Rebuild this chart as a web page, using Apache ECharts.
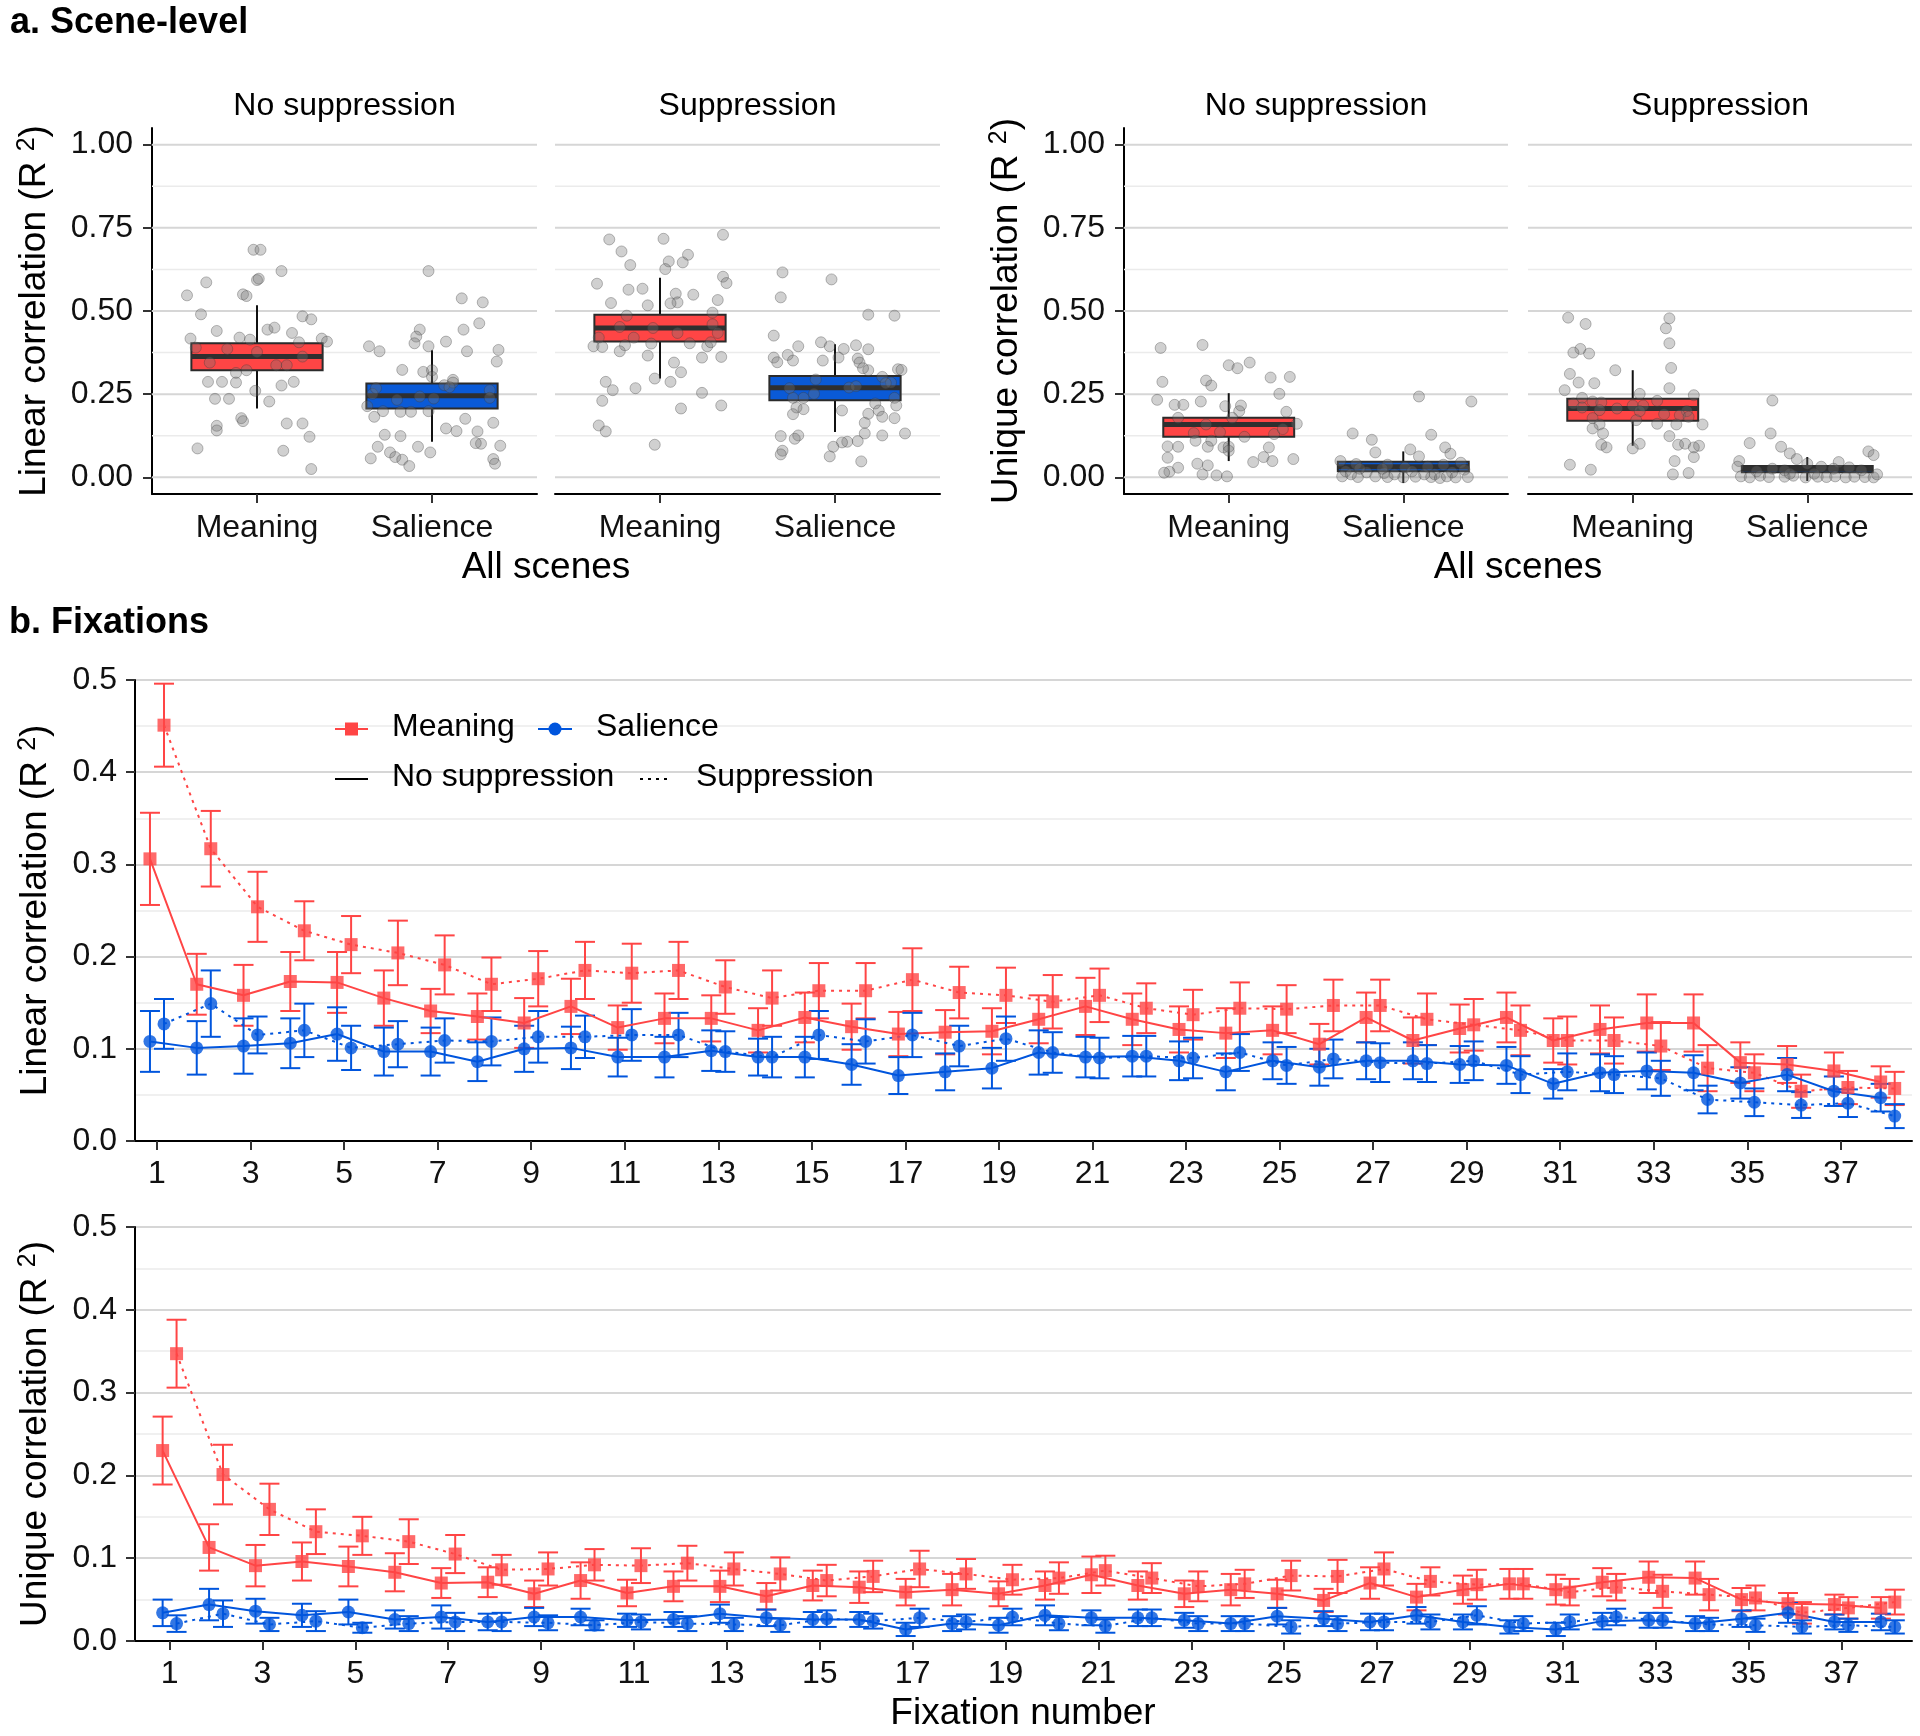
<!DOCTYPE html>
<html><head><meta charset="utf-8">
<script src="https://cdn.jsdelivr.net/npm/echarts@6/dist/echarts.min.js"></script>
<style>html,body{margin:0;padding:0;background:#fff}#c{width:1920px;height:1736px}</style>
</head><body><div id="c"></div>
<script>
const FONT = '"Liberation Sans", Arial, sans-serif';
const RED = '#FF4545', BLUE = '#0055DD', BLUE_BOX = '#0A5AD7';

// ---------- Panel a: scene level ----------
const categories = ['Meaning', 'Salience'];
const facetLabels = ['No suppression', 'Suppression'];
const sceneTicks = [0, 0.25, 0.5, 0.75, 1];
const sceneMinor = [0.125, 0.375, 0.625, 0.875];

// box stats per category: [lowWhisker, q1, median, q3, highWhisker]
const linBoxNoSupp = [[0.207, 0.322, 0.363, 0.403, 0.517], [0.107, 0.207, 0.245, 0.282, 0.382]];
const linBoxSupp   = [[0.297, 0.408, 0.449, 0.489, 0.600], [0.136, 0.232, 0.269, 0.305, 0.400]];
const uniBoxNoSupp = [[0.049, 0.122, 0.159, 0.179, 0.253], [-0.017, 0.018, 0.032, 0.047, 0.078]];
const uniBoxSupp   = [[0.095, 0.170, 0.207, 0.236, 0.322], [-0.011, 0.015, 0.026, 0.034, 0.061]];

// per-scene points: [jitter, value]
const linPtsNoSuppMeaning = [[-0.40,0.547],[-0.29,0.586],[-0.32,0.49],[-0.02,0.684],[0.02,0.684],[0,0.593],[0.01,0.597],[0.14,0.62],[-0.08,0.55],[-0.06,0.545],[-0.23,0.44],[-0.38,0.417],[0.06,0.444],[0.10,0.45],[0.20,0.434],[-0.10,0.42],[-0.04,0.414],[0.26,0.484],[0.31,0.475],[-0.35,0.39],[-0.17,0.386],[0,0.377],[0.24,0.406],[0.37,0.417],[0.40,0.408],[0.26,0.363],[-0.27,0.345],[0.11,0.337],[0.17,0.337],[-0.06,0.322],[-0.12,0.314],[-0.28,0.287],[-0.20,0.287],[-0.12,0.285],[0.21,0.287],[0.14,0.276],[-0.01,0.26],[-0.24,0.236],[-0.16,0.236],[0.07,0.228],[-0.09,0.178],[-0.08,0.169],[-0.23,0.155],[-0.23,0.141],[0.17,0.162],[0.26,0.162],[0.30,0.122],[-0.34,0.087],[0.15,0.08],[0.31,0.025]];
const linPtsNoSuppSalience = [[-0.02,0.62],[0.17,0.538],[0.29,0.526],[0.27,0.463],[0.18,0.444],[-0.07,0.444],[-0.09,0.423],[-0.10,0.403],[0.08,0.408],[-0.36,0.394],[-0.30,0.379],[0.38,0.383],[0.20,0.379],[-0.02,0.394],[-0.17,0.323],[-0.05,0.317],[0,0.322],[0,0.302],[0.12,0.293],[0.12,0.285],[0.07,0.277],[0.10,0.271],[0.37,0.348],[0.33,0.262],[-0.34,0.251],[-0.32,0.268],[-0.07,0.243],[0.01,0.237],[-0.20,0.233],[0.33,0.239],[-0.37,0.214],[-0.28,0.199],[-0.18,0.197],[-0.12,0.197],[-0.02,0.199],[-0.33,0.182],[0.19,0.176],[0.35,0.164],[0.08,0.147],[0.14,0.139],[0.26,0.138],[-0.27,0.128],[-0.18,0.124],[0.28,0.101],[0.25,0.103],[0.39,0.095],[-0.31,0.092],[-0.08,0.092],[-0.24,0.075],[-0.01,0.075],[-0.35,0.057],[-0.21,0.061],[-0.17,0.053],[-0.13,0.034],[0.35,0.055],[0.36,0.041]];
const linPtsSuppMeaning = [[-0.29,0.715],[0.02,0.717],[0.36,0.729],[-0.22,0.679],[0.16,0.669],[-0.17,0.638],[0.13,0.646],[0.05,0.649],[0.03,0.626],[0.36,0.603],[0.38,0.584],[-0.36,0.582],[-0.18,0.564],[-0.10,0.567],[0.09,0.552],[0.19,0.549],[0.10,0.526],[0.06,0.523],[0.33,0.533],[-0.28,0.524],[-0.07,0.517],[-0.19,0.486],[0.30,0.495],[-0.23,0.452],[-0.04,0.449],[0.30,0.46],[0.10,0.434],[0.33,0.434],[-0.35,0.42],[-0.15,0.42],[-0.38,0.394],[-0.33,0.392],[-0.20,0.397],[-0.05,0.402],[0.17,0.403],[0.27,0.394],[0.29,0.406],[-0.23,0.379],[-0.07,0.366],[0.24,0.36],[0.35,0.362],[0.08,0.345],[0.12,0.316],[-0.03,0.297],[-0.31,0.287],[0.06,0.287],[-0.27,0.262],[-0.14,0.268],[0.24,0.254],[-0.33,0.23],[0.35,0.216],[0.12,0.207],[-0.35,0.156],[-0.31,0.138],[-0.03,0.098]];
const linPtsSuppSalience = [[-0.30,0.616],[-0.02,0.595],[-0.31,0.541],[0.19,0.489],[0.34,0.486],[-0.35,0.426],[-0.21,0.394],[-0.08,0.406],[0.05,0.386],[0.12,0.397],[0.19,0.385],[-0.03,0.394],[-0.35,0.36],[-0.27,0.368],[0.02,0.36],[-0.24,0.351],[-0.33,0.346],[-0.07,0.351],[0.13,0.357],[0.14,0.345],[0.19,0.322],[0.16,0.328],[0.36,0.325],[0.38,0.323],[-0.11,0.294],[0.27,0.302],[0.32,0.285],[-0.26,0.268],[0.08,0.27],[0.12,0.274],[0.29,0.283],[-0.12,0.251],[-0.18,0.239],[-0.24,0.239],[0.34,0.239],[-0.22,0.21],[-0.18,0.205],[0.04,0.201],[0.23,0.222],[0.35,0.216],[0.25,0.201],[0.19,0.191],[-0.24,0.19],[0.27,0.182],[0.34,0.178],[0.17,0.164],[-0.31,0.124],[-0.21,0.126],[-0.23,0.116],[0.27,0.126],[0.40,0.132],[0.17,0.132],[0.13,0.109],[0.07,0.107],[0.04,0.105],[-0.01,0.092],[-0.30,0.08],[-0.31,0.069],[-0.03,0.063],[0.15,0.048]];
const uniPtsNoSuppMeaning = [[-0.39,0.389],[-0.15,0.398],[-0.38,0.287],[-0.13,0.291],[-0.10,0.276],[0,0.337],[0.05,0.328],[0.12,0.345],[0.24,0.30],[0.35,0.302],[-0.41,0.233],[-0.31,0.218],[-0.26,0.218],[-0.16,0.228],[-0.02,0.214],[0.07,0.216],[0.29,0.251],[0.06,0.199],[0.33,0.197],[-0.29,0.179],[0.02,0.179],[-0.13,0.159],[0.39,0.161],[-0.20,0.133],[-0.05,0.136],[0.09,0.122],[0.26,0.13],[0.31,0.145],[-0.10,0.110],[-0.19,0.110],[-0.35,0.093],[-0.29,0.092],[-0.12,0.092],[-0.03,0.09],[0,0.092],[0.23,0.09],[0,0.08],[0.20,0.061],[-0.35,0.059],[0.37,0.055],[0.14,0.046],[0.25,0.049],[-0.18,0.041],[-0.12,0.036],[-0.29,0.029],[-0.34,0.017],[-0.37,0.014],[-0.15,0.009],[-0.07,0.006],[-0.01,0.003]];
const uniPtsNoSuppSalience = [[0.09,0.243],[0.39,0.228],[-0.29,0.132],[0.16,0.128],[-0.18,0.113],[-0.16,0.075],[0.04,0.084],[0.24,0.09],[0.27,0.071],[0.09,0.063],[-0.36,0.049],[-0.27,0.04],[-0.09,0.038],[0.01,0.03],[0.14,0.032],[0.23,0.038],[0.33,0.044],[0.35,0.023],[-0.33,0.018],[-0.21,0.015],[-0.11,0.013],[0.05,0.018],[0.18,0.009],[0.28,0.015],[-0.35,0.003],[-0.26,0.001],[-0.16,0.003],[-0.09,0.001],[0,0],[0.07,0.002],[0.16,0.001],[0.21,-0.002],[0.25,0.003],[0.30,0],[0.37,0.001],[-0.30,0.009],[-0.05,0.009],[0.12,0.009],[-0.12,0.026],[-0.25,0.026]];
const uniPtsSuppMeaning = [[-0.37,0.480],[0.21,0.478],[0.19,0.448],[-0.27,0.461],[0.21,0.403],[-0.30,0.386],[-0.34,0.375],[-0.25,0.372],[-0.10,0.322],[0.22,0.329],[-0.36,0.311],[-0.31,0.285],[-0.22,0.283],[-0.39,0.262],[0.21,0.268],[-0.29,0.239],[0.04,0.251],[0.35,0.247],[0.14,0.23],[-0.34,0.222],[-0.23,0.228],[-0.18,0.225],[-0.29,0.21],[-0.19,0.202],[-0.09,0.207],[0,0.216],[0.06,0.216],[0.04,0.199],[0.18,0.19],[0.31,0.199],[0.27,0.187],[0.32,0.182],[-0.23,0.178],[0.02,0.172],[0.14,0.161],[0.25,0.159],[0.40,0.159],[-0.19,0.159],[-0.23,0.147],[-0.17,0.132],[0.21,0.124],[-0.18,0.098],[-0.15,0.09],[0.04,0.101],[0,0.087],[0.26,0.098],[0.30,0.101],[0.38,0.095],[0.35,0.09],[0.35,0.061],[0.24,0.049],[-0.36,0.038],[-0.24,0.023],[0.23,0.009],[0.32,0.013]];
const uniPtsSuppSalience = [[-0.20,0.231],[-0.21,0.132],[-0.33,0.103],[-0.15,0.092],[-0.10,0.072],[0.35,0.078],[0.38,0.067],[-0.39,0.049],[-0.06,0.055],[0,0.041],[0.18,0.046],[-0.40,0.032],[-0.29,0.018],[-0.20,0.026],[-0.13,0.021],[0.08,0.032],[0.15,0.026],[0.24,0.03],[0.31,0.021],[-0.38,0.003],[-0.33,0],[-0.27,0.005],[-0.22,0.001],[-0.13,0.002],[-0.08,0.005],[-0.01,0],[0.06,0.002],[0.11,0.001],[0.16,0.003],[0.22,0],[0.27,0.002],[0.33,0.001],[0.38,0],[0.40,0.009],[0.04,0.011],[-0.10,0.011]];

// ---------- Panel b: fixations ----------
const fixations = [1,2,3,4,5,6,7,8,9,10,11,12,13,14,15,16,17,18,19,20,21,22,23,24,25,26,27,28,29,30,31,32,33,34,35,36,37,38];
const fixTicks = [1,3,5,7,9,11,13,15,17,19,21,23,25,27,29,31,33,35,37];

const linMeaningNoSupp = [0.306,0.170,0.158,0.173,0.172,0.155,0.141,0.135,0.128,0.146,0.123,0.133,0.133,0.120,0.134,0.124,0.116,0.118,0.119,0.132,0.146,0.132,0.121,0.117,0.120,0.105,0.134,0.109,0.122,0.134,0.109,0.121,0.128,0.128,0.085,0.083,0.076,0.064];
const linMeaningSupp = [0.451,0.317,0.254,0.228,0.213,0.204,0.191,0.170,0.176,0.185,0.182,0.185,0.167,0.155,0.163,0.163,0.175,0.161,0.158,0.151,0.158,0.144,0.137,0.144,0.143,0.147,0.147,0.132,0.126,0.120,0.109,0.109,0.103,0.079,0.074,0.054,0.058,0.057];
const linSalNoSupp = [0.108,0.101,0.103,0.106,0.116,0.097,0.097,0.086,0.100,0.101,0.091,0.091,0.098,0.091,0.091,0.083,0.071,0.075,0.079,0.096,0.091,0.092,0.087,0.075,0.087,0.080,0.087,0.087,0.083,0.082,0.062,0.074,0.076,0.074,0.063,0.072,0.054,0.047];
const linSalSupp = [0.127,0.149,0.115,0.120,0.101,0.105,0.109,0.108,0.113,0.113,0.115,0.115,0.097,0.091,0.115,0.108,0.115,0.103,0.111,0.096,0.090,0.092,0.090,0.096,0.082,0.089,0.085,0.084,0.087,0.072,0.075,0.072,0.068,0.045,0.042,0.039,0.041,0.027];
const linMeaningNoSuppSE = [0.05,0.033,0.033,0.032,0.033,0.03,0.024,0.025,0.027,0.03,0.024,0.027,0.025,0.024,0.027,0.025,0.024,0.024,0.025,0.026,0.031,0.028,0.025,0.027,0.026,0.022,0.027,0.025,0.026,0.027,0.024,0.026,0.031,0.031,0.022,0.02,0.02,0.017];
const linMeaningSuppSE = [0.045,0.041,0.038,0.032,0.031,0.035,0.032,0.029,0.03,0.031,0.032,0.031,0.029,0.03,0.03,0.03,0.034,0.028,0.03,0.029,0.029,0.027,0.027,0.028,0.026,0.028,0.028,0.028,0.028,0.027,0.026,0.025,0.026,0.025,0.02,0.018,0.018,0.018];
const linSalNoSuppSE = [0.033,0.029,0.03,0.027,0.029,0.026,0.026,0.021,0.025,0.023,0.021,0.022,0.022,0.02,0.022,0.022,0.02,0.02,0.022,0.024,0.022,0.022,0.021,0.02,0.02,0.02,0.02,0.02,0.02,0.02,0.016,0.02,0.02,0.019,0.017,0.018,0.016,0.015];
const linSalSuppSE = [0.027,0.036,0.02,0.029,0.024,0.025,0.024,0.026,0.028,0.023,0.028,0.024,0.022,0.022,0.026,0.024,0.024,0.022,0.024,0.022,0.022,0.022,0.022,0.02,0.02,0.021,0.021,0.02,0.021,0.02,0.02,0.02,0.019,0.015,0.015,0.014,0.015,0.013];

const uniMeaningNoSupp = [0.230,0.113,0.091,0.096,0.090,0.083,0.070,0.071,0.057,0.073,0.058,0.066,0.066,0.054,0.067,0.065,0.059,0.062,0.057,0.067,0.080,0.067,0.057,0.062,0.057,0.049,0.070,0.053,0.062,0.069,0.062,0.071,0.077,0.076,0.050,0.045,0.044,0.040];
const uniMeaningSupp = [0.347,0.201,0.159,0.132,0.127,0.120,0.105,0.086,0.087,0.092,0.091,0.094,0.087,0.081,0.073,0.078,0.087,0.081,0.074,0.076,0.085,0.076,0.066,0.069,0.079,0.078,0.087,0.072,0.068,0.069,0.059,0.065,0.060,0.056,0.052,0.034,0.040,0.047];
const uniSalNoSupp = [0.034,0.044,0.036,0.031,0.035,0.026,0.029,0.023,0.029,0.029,0.025,0.026,0.033,0.028,0.026,0.026,0.014,0.021,0.019,0.031,0.028,0.028,0.025,0.021,0.030,0.027,0.023,0.031,0.023,0.017,0.014,0.024,0.025,0.021,0.027,0.034,0.023,0.023];
const uniSalSupp = [0.021,0.033,0.020,0.024,0.016,0.021,0.023,0.023,0.022,0.019,0.023,0.021,0.020,0.019,0.027,0.024,0.028,0.023,0.029,0.021,0.018,0.028,0.021,0.021,0.017,0.021,0.023,0.023,0.031,0.021,0.023,0.029,0.025,0.020,0.019,0.017,0.019,0.017];
const uniMeaningNoSuppSE = [0.041,0.028,0.025,0.023,0.024,0.023,0.018,0.018,0.016,0.022,0.016,0.018,0.019,0.016,0.018,0.019,0.016,0.019,0.015,0.017,0.022,0.017,0.016,0.019,0.017,0.014,0.019,0.016,0.017,0.018,0.018,0.017,0.019,0.02,0.014,0.013,0.012,0.013];
const uniMeaningSuppSE = [0.041,0.036,0.031,0.027,0.023,0.027,0.023,0.018,0.02,0.019,0.021,0.021,0.02,0.02,0.019,0.019,0.022,0.018,0.018,0.019,0.018,0.018,0.018,0.017,0.018,0.02,0.02,0.017,0.018,0.018,0.016,0.016,0.02,0.019,0.015,0.013,0.013,0.015];
const uniSalNoSuppSE = [0.016,0.019,0.015,0.014,0.015,0.011,0.014,0.01,0.011,0.01,0.008,0.009,0.011,0.01,0.009,0.009,0.008,0.009,0.009,0.012,0.009,0.01,0.009,0.009,0.01,0.009,0.01,0.01,0.009,0.008,0.008,0.01,0.009,0.009,0.01,0.012,0.009,0.01];
const uniSalSuppSE = [0.01,0.016,0.008,0.012,0.006,0.009,0.011,0.011,0.009,0.006,0.009,0.009,0.008,0.008,0.01,0.009,0.011,0.009,0.01,0.008,0.008,0.01,0.009,0.009,0.008,0.009,0.01,0.009,0.011,0.009,0.009,0.01,0.009,0.008,0.008,0.008,0.008,0.008];

// ---------- build chart ----------
const chart = echarts.init(document.getElementById('c'), null, {renderer: 'canvas'});
const TXT = '#111';
const axisLineStyle = {color: '#000', width: 2};
const tickStyle = {color: '#333', width: 2};
const supRich = {sup: {fontSize: 25, fontFamily: FONT, color: '#000', padding: [0, 0, 14, 0]}};

const grids = [
  {left: 152, top: 128, width: 385, height: 366},
  {left: 555, top: 128, width: 385, height: 366},
  {left: 1124, top: 128, width: 384, height: 366},
  {left: 1528, top: 128, width: 384, height: 366},
  {left: 135, top: 680, width: 1777, height: 461},
  {left: 135, top: 1227, width: 1777, height: 414}
].map(g => Object.assign({containLabel: false, outerBoundsMode: 'none'}, g));

function sceneX(i) {
  return {type: 'value', gridIndex: i, min: 0.4, max: 2.6,
    axisLine: {show: true, onZero: false, lineStyle: axisLineStyle},
    axisTick: {show: true, customValues: [1, 2], length: 9, lineStyle: tickStyle},
    axisLabel: {show: true, customValues: [1, 2], formatter: v => categories[Math.round(v) - 1],
      fontSize: 32, fontFamily: FONT, color: TXT, margin: 18},
    splitLine: {show: false}};
}
function sceneY(i, name, show) {
  return {type: 'value', gridIndex: i, min: -0.05, max: 1.05, show: show,
    axisLine: {show: true, onZero: false, lineStyle: axisLineStyle},
    axisTick: {show: true, customValues: sceneTicks, length: 9, lineStyle: tickStyle},
    axisLabel: {show: true, customValues: sceneTicks, formatter: v => v.toFixed(2),
      fontSize: 32, fontFamily: FONT, color: TXT, margin: 19},
    splitLine: {show: false},
    name: name, nameLocation: 'middle', nameGap: 98, nameRotate: 90,
    nameTextStyle: {fontSize: 37, fontFamily: FONT, color: '#000', rich: supRich}};
}
function fixX(i, min) {
  return {type: 'value', gridIndex: i, min: min, max: 38.52,
    axisLine: {show: true, onZero: false, lineStyle: axisLineStyle},
    axisTick: {show: true, customValues: fixTicks, length: 9, lineStyle: tickStyle},
    axisLabel: {show: true, customValues: fixTicks, fontSize: 32, fontFamily: FONT, color: TXT, margin: 17},
    splitLine: {show: false}};
}
function fixY(i, name) {
  return {type: 'value', gridIndex: i, min: 0, max: 0.5, interval: 0.1,
    axisLine: {show: true, onZero: false, lineStyle: axisLineStyle},
    axisTick: {show: true, length: 9, lineStyle: tickStyle},
    axisLabel: {formatter: v => v.toFixed(1), fontSize: 32, fontFamily: FONT, color: TXT, margin: 18},
    splitLine: {show: true, lineStyle: {color: '#d6d6d6', width: 2}},
    minorTick: {show: false, splitNumber: 2},
    minorSplitLine: {show: true, lineStyle: {color: '#ebebeb', width: 1.5}},
    name: name, nameLocation: 'middle', nameGap: 80, nameRotate: 90,
    nameTextStyle: {fontSize: 37, fontFamily: FONT, color: '#000', rich: supRich}};
}

const xAxes = [sceneX(0), sceneX(1), sceneX(2), sceneX(3), fixX(4, 0.53), fixX(5, 0.255)];
const yAxes = [
  sceneY(0, 'Linear correlation (R {sup|2})', true),
  sceneY(1, '', false),
  sceneY(2, 'Unique correlation (R {sup|2})', true),
  sceneY(3, '', false),
  fixY(4, 'Linear correlation (R {sup|2})'),
  fixY(5, 'Unique correlation (R {sup|2})')
];

const series = [];

function gridRender(params, api) {
  const v = api.value(0), major = api.value(1);
  const cs = params.coordSys;
  const y = api.coord([1, v])[1];
  return {type: 'line', silent: true,
    shape: {x1: cs.x, y1: y, x2: cs.x + cs.width, y2: y},
    style: {stroke: major ? '#d6d6d6' : '#ebebeb', lineWidth: major ? 2 : 1.5}};
}
function boxRender(params, api) {
  const x = api.value(0), lo = api.value(1), q1 = api.value(2), med = api.value(3), q3 = api.value(4), hi = api.value(5);
  const hw = 0.375;
  const tl = api.coord([x - hw, q3]), br = api.coord([x + hw, q1]);
  const ml = api.coord([x - hw, med]), mr = api.coord([x + hw, med]);
  const pl = api.coord([x, lo]), ph = api.coord([x, hi]);
  const fill = params.dataIndex === 0 ? RED : BLUE_BOX;
  return {type: 'group', children: [
    {type: 'line', shape: {x1: pl[0], y1: pl[1], x2: ph[0], y2: ph[1]}, style: {stroke: '#111', lineWidth: 2}},
    {type: 'rect', shape: {x: tl[0], y: tl[1], width: br[0] - tl[0], height: br[1] - tl[1]},
      style: {fill: fill, stroke: '#2b2b2b', lineWidth: 2}},
    {type: 'line', shape: {x1: ml[0], y1: ml[1], x2: mr[0], y2: mr[1]}, style: {stroke: '#2f2f2f', lineWidth: 5}}
  ]};
}

const sceneSets = [
  {g: 0, boxes: linBoxNoSupp, pts: [linPtsNoSuppMeaning, linPtsNoSuppSalience]},
  {g: 1, boxes: linBoxSupp, pts: [linPtsSuppMeaning, linPtsSuppSalience]},
  {g: 2, boxes: uniBoxNoSupp, pts: [uniPtsNoSuppMeaning, uniPtsNoSuppSalience]},
  {g: 3, boxes: uniBoxSupp, pts: [uniPtsSuppMeaning, uniPtsSuppSalience]}
];
const gridLineData = sceneTicks.map(v => [v, 1]).concat(sceneMinor.map(v => [v, 0]));
sceneSets.forEach(s => {
  series.push({type: 'custom', xAxisIndex: s.g, yAxisIndex: s.g, z: 1, silent: true,
    data: gridLineData, renderItem: gridRender, encode: {y: 0}});
  series.push({type: 'custom', xAxisIndex: s.g, yAxisIndex: s.g, z: 3, silent: true,
    data: s.boxes.map((b, i) => [i + 1].concat(b)), renderItem: boxRender, encode: {x: 0, y: [1, 5]}});
  const pts = s.pts[0].map(p => [1 + p[0], p[1]]).concat(s.pts[1].map(p => [2 + p[0], p[1]]));
  series.push({type: 'scatter', xAxisIndex: s.g, yAxisIndex: s.g, z: 4, silent: true,
    symbol: 'circle', symbolSize: 11, data: pts,
    itemStyle: {color: 'rgba(115,115,115,0.42)', borderColor: 'rgba(55,55,55,0.42)', borderWidth: 1}});
});

function errRender(color) {
  return function (params, api) {
    const x = api.value(0), v = api.value(1), e = api.value(2);
    const t = api.coord([x, v + e]), b = api.coord([x, v - e]);
    const hw = 10;
    const st = {stroke: color, lineWidth: 2};
    return {type: 'group', children: [
      {type: 'line', shape: {x1: t[0], y1: t[1], x2: b[0], y2: b[1]}, style: st},
      {type: 'line', shape: {x1: t[0] - hw, y1: t[1], x2: t[0] + hw, y2: t[1]}, style: st},
      {type: 'line', shape: {x1: b[0] - hw, y1: b[1], x2: b[0] + hw, y2: b[1]}, style: st}
    ]};
  };
}

const DOT = [3, 5];
const fixSets = [
  {g: 4, list: [
    {v: linMeaningNoSupp, se: linMeaningNoSuppSE, c: RED, d: -0.15, dash: 'solid', sym: 'rect'},
    {v: linMeaningSupp, se: linMeaningSuppSE, c: RED, d: 0.15, dash: DOT, sym: 'rect'},
    {v: linSalNoSupp, se: linSalNoSuppSE, c: BLUE, d: -0.15, dash: 'solid', sym: 'circle'},
    {v: linSalSupp, se: linSalSuppSE, c: BLUE, d: 0.15, dash: DOT, sym: 'circle'}]},
  {g: 5, list: [
    {v: uniMeaningNoSupp, se: uniMeaningNoSuppSE, c: RED, d: -0.15, dash: 'solid', sym: 'rect'},
    {v: uniMeaningSupp, se: uniMeaningSuppSE, c: RED, d: 0.15, dash: DOT, sym: 'rect'},
    {v: uniSalNoSupp, se: uniSalNoSuppSE, c: BLUE, d: -0.15, dash: 'solid', sym: 'circle'},
    {v: uniSalSupp, se: uniSalSuppSE, c: BLUE, d: 0.15, dash: DOT, sym: 'circle'}]}
];
fixSets.forEach(fs => {
  fs.list.forEach(s => {
    series.push({type: 'custom', xAxisIndex: fs.g, yAxisIndex: fs.g, z: 2, silent: true,
      data: fixations.map((f, i) => [f + s.d, s.v[i], s.se[i]]), renderItem: errRender(s.c), encode: {x: 0, y: 1}});
  });
  fs.list.forEach(s => {
    series.push({type: 'line', xAxisIndex: fs.g, yAxisIndex: fs.g, z: 3, silent: true, showSymbol: false,
      data: fixations.map((f, i) => [f + s.d, s.v[i]]),
      lineStyle: {color: s.c, width: 2, type: s.dash}, itemStyle: {color: s.c}});
  });
  fs.list.forEach(s => {
    series.push({type: 'scatter', xAxisIndex: fs.g, yAxisIndex: fs.g, z: 4, silent: true,
      symbol: s.sym, symbolSize: 13,
      data: fixations.map((f, i) => [f + s.d, s.v[i]]), itemStyle: {color: s.c}});
  });
});

function txt(text, x, y, size, opts) {
  return Object.assign({type: 'text', x: x, y: y, silent: true, z: 100,
    style: Object.assign({text: text, fill: '#000', font: size + 'px ' + FONT, align: 'center', verticalAlign: 'middle'}, opts || {})});
}
const LY1 = 729, LY2 = 779;
const graphics = [
  txt('a. Scene-level', 10, 23, 36, {font: 'bold 36px ' + FONT, align: 'left'}),
  txt('b. Fixations', 9, 623, 36, {font: 'bold 36px ' + FONT, align: 'left'}),
  txt(facetLabels[0], 344.5, 106, 32), txt(facetLabels[1], 747.5, 106, 32),
  txt(facetLabels[0], 1316, 106, 32), txt(facetLabels[1], 1720, 106, 32),
  txt('All scenes', 546, 568, 37), txt('All scenes', 1518, 568, 37),
  txt('Fixation number', 1023, 1714, 37),
  // legend
  {type: 'line', silent: true, z: 100, shape: {x1: 335, y1: LY1, x2: 368, y2: LY1}, style: {stroke: RED, lineWidth: 2}},
  {type: 'rect', silent: true, z: 100, shape: {x: 345, y: LY1 - 6.5, width: 13, height: 13}, style: {fill: RED}},
  txt(categories[0], 392, LY1 - 2, 32, {align: 'left'}),
  {type: 'line', silent: true, z: 100, shape: {x1: 538, y1: LY1, x2: 572, y2: LY1}, style: {stroke: BLUE, lineWidth: 2}},
  {type: 'circle', silent: true, z: 100, shape: {cx: 555, cy: LY1, r: 6.5}, style: {fill: BLUE}},
  txt(categories[1], 596, LY1 - 2, 32, {align: 'left'}),
  {type: 'line', silent: true, z: 100, shape: {x1: 335, y1: LY2, x2: 368, y2: LY2}, style: {stroke: '#000', lineWidth: 2}},
  txt(facetLabels[0], 392, LY2 - 2, 32, {align: 'left'}),
  {type: 'line', silent: true, z: 100, shape: {x1: 640, y1: LY2, x2: 672, y2: LY2}, style: {stroke: '#000', lineWidth: 2, lineDash: DOT}},
  txt(facetLabels[1], 696, LY2 - 2, 32, {align: 'left'})
];

chart.setOption({
  backgroundColor: '#fff',
  animation: false,
  textStyle: {fontFamily: FONT},
  grid: grids,
  xAxis: xAxes,
  yAxis: yAxes,
  series: series,
  graphic: graphics
});
</script></body></html>
